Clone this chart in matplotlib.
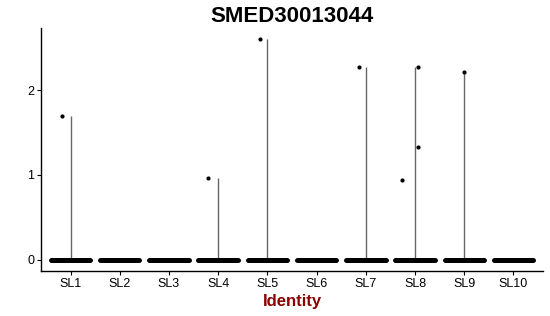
import matplotlib
matplotlib.use("Agg")
import matplotlib.pyplot as plt
import numpy as np

plt.rcParams['font.family'] = ['Liberation Sans', 'DejaVu Sans']

categories = ["SL1", "SL2", "SL3", "SL4", "SL5", "SL6", "SL7", "SL8", "SL9", "SL10"]
# maximum expression per group (violin extent)
violin_max = [1.70, 0.0, 0.0, 0.96, 2.60, 0.0, 2.27, 2.27, 2.21, 0.0]
# non-zero cells: group index, value, jitter offset
pt_group = [0, 3, 4, 6, 7, 7, 7, 8]
pt_value = [1.70, 0.96, 2.60, 2.27, 0.94, 2.27, 1.33, 2.21]
pt_jitter = [-0.18, -0.20, -0.16, -0.14, -0.27, 0.07, 0.07, 0.0]

fig = plt.figure(figsize=(5.5, 3.16), dpi=100)
ax = fig.add_axes([41/550, 1 - 271/316, (543-41)/550, (271-28)/316])

x = np.arange(1, len(categories) + 1)
jw = 0.40
for xi, vm in zip(x, violin_max):
    # dense band of zero-valued cells
    ax.hlines(0, xi - jw, xi + jw, color='black', lw=3.6, capstyle='round', zorder=3)
    if vm > 0:
        ax.vlines(xi, 0, vm, color='#666666', lw=1.0, zorder=2)

ax.scatter([x[g] + j for g, j in zip(pt_group, pt_jitter)], pt_value,
           s=9, color='black', zorder=4, linewidths=0)

ax.set_xlim(0.4, len(categories) + 0.6)
ax.set_ylim(-0.13, 2.73)
ax.set_xticks(x)
ax.set_xticklabels(categories)
ax.set_yticks([0, 1, 2])
ax.set_yticklabels(["0", "1", "2"])
for s in ['top', 'right']:
    ax.spines[s].set_visible(False)
for s in ['left', 'bottom']:
    ax.spines[s].set_linewidth(1.0)
ax.tick_params(axis='both', labelsize=9, length=3, width=0.8, colors='black', pad=2)
ax.set_title("SMED30013044", fontsize=16, fontweight='bold', pad=4)
ax.set_xlabel("Identity", fontsize=12, fontweight='bold', color='#8B0000', labelpad=3)

fig.savefig("out.png", dpi=100)
